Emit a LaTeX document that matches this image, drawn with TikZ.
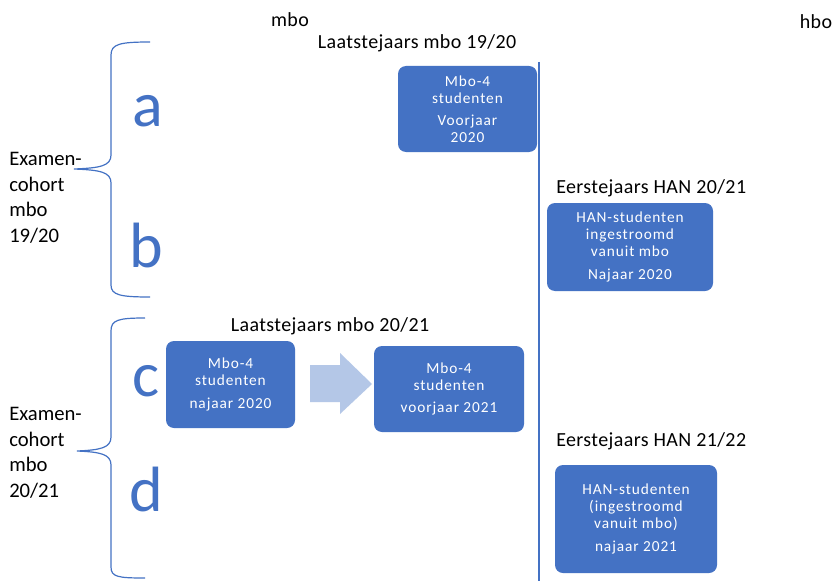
\documentclass[tikz,border=0pt]{standalone}
\usepackage{fontspec}
\setmainfont{Carlito}
\newfontfamily\boxfont[LetterSpace=6]{Carlito}
\newfontfamily\titlefont[LetterSpace=2]{Carlito}
\definecolor{boxblue}{HTML}{4472C4}
\definecolor{arrowblue}{HTML}{B4C7E7}
\begin{document}
\begin{tikzpicture}[x=0.75pt,y=-0.75pt,
  boxstyle/.style={fill=boxblue, rounded corners=6pt, text=white, align=center,
    font=\boxfont\fontsize{11.5}{12.8}\selectfont, inner sep=0pt},
  title/.style={font=\titlefont\fontsize{15}{17}\selectfont, inner sep=0pt},
  bigletter/.style={font=\fontsize{48}{50}\selectfont, text=boxblue, inner sep=0pt},
  cohort/.style={font=\fontsize{15.5}{19.2}\selectfont, align=left, inner sep=0pt, anchor=west},
  bracestyle/.style={draw=boxblue, line width=0.9pt},
  divider/.style={draw=boxblue, line width=0.8pt}]
\useasboundingbox[fill=white] (0,0) rectangle (834,581);

% headers
\node[title] (mbo) at (290,20) {mbo};
\node[title] (hbo) at (816,22) {hbo};
\node[title] (t1) at (417,43) {Laatstejaars mbo 19/20};
\node[title] (t2) at (330,326) {Laatstejaars mbo 20/21};
\node[title, anchor=west] (t3) at (556,188) {Eerstejaars HAN 20/21};
\node[title, anchor=west] (t4) at (556,441) {Eerstejaars HAN 21/22};

% divider
\coordinate (dtop) at (539,62);
\coordinate (dbot) at (539,581);
\draw[divider] (dtop) -- (dbot);

% boxes
\node[boxstyle, minimum width=104.25pt, minimum height=64.5pt] (b1) at (467.5,109)
  {Mbo-4\\studenten\\[4pt]Voorjaar\\2020};
\node[boxstyle, minimum width=124.5pt, minimum height=66pt] (b2) at (630,247)
  {HAN-studenten\\ingestroomd\\vanuit mbo\\[4pt]Najaar 2020};
\node[boxstyle, minimum width=96.75pt, minimum height=65.25pt] (b3) at (230.5,384.5)
  {Mbo-4\\studenten\\[4pt]najaar 2020};
\node[boxstyle, minimum width=112.5pt, minimum height=64.5pt] (b4) at (449,389)
  {Mbo-4\\studenten\\[4pt]voorjaar 2021};
\node[boxstyle, minimum width=121.5pt, minimum height=81pt] (b5) at (636,519)
  {HAN-studenten\\(ingestroomd\\vanuit mbo)\\[4pt]najaar 2021};

% block arrow
\fill[arrowblue] (310,365) -- (340,365) -- (340,353) -- (372,384) -- (340,414)
  -- (340,402) -- (310,402) -- cycle;

% letters
\node[bigletter] (la) at (148,111) {a};
\node[bigletter] (lb) at (146,245) {b};
\node[bigletter] (lc) at (146,381) {c};
\node[bigletter] (ld) at (146,489) {d};

% cohort labels
\node[cohort] (c1) at (9,198) {Examen-\\cohort\\mbo\\19/20};
\node[cohort] (c2) at (9,453) {Examen-\\cohort\\mbo\\20/21};

% braces
\draw[bracestyle] (150,42) .. controls (120,42) and (111,44) .. (111,55)
  -- (111,155) .. controls (111,166) and (100,168) .. (74,169)
  .. controls (100,170) and (111,172) .. (111,183)
  -- (111,285) .. controls (111,295) and (120,297) .. (150,297);
\draw[bracestyle] (145,318) .. controls (118,318) and (111,320) .. (111,331)
  -- (111,437) .. controls (111,448) and (100,450) .. (77,451)
  .. controls (100,452) and (111,454) .. (111,465)
  -- (111,567) .. controls (111,577) and (118,578) .. (145,578);
\end{tikzpicture}
\end{document}
